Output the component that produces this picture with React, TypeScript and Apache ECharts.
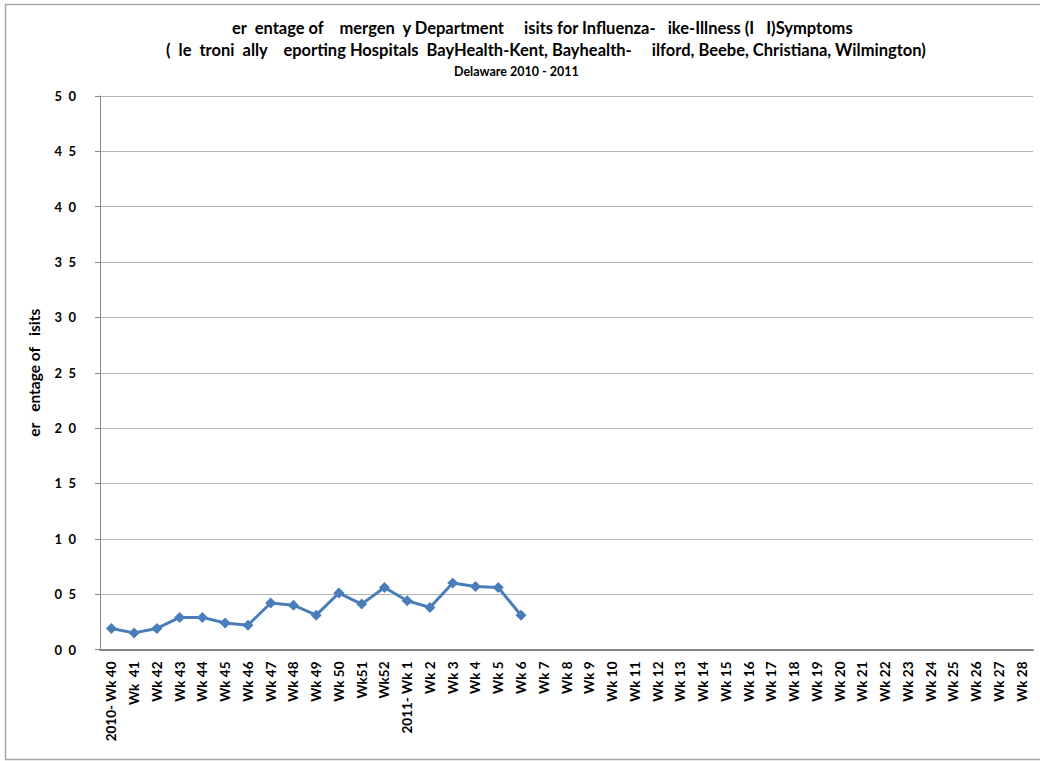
import React, { useEffect, useRef } from "react";
import * as echarts from "echarts";

const titleLine1 = "er  entage of    mergen  y Department     isits for Influenza-   ike-Illness (I   I)Symptoms";
const titleLine2 = "(  le  troni  ally    eporting Hospitals  BayHealth-Kent, Bayhealth-     ilford, Beebe, Christiana, Wilmington)";
const titleLine3 = "Delaware 2010 - 2011";
const yAxisName = "er   entage of   isits";

const weekLabels = [
  "2010- Wk 40", "Wk  41", "Wk 42", "Wk 43", "Wk 44", "Wk 45", "Wk 46", "Wk 47", "Wk 48", "Wk 49",
  "Wk 50", "Wk51", "Wk52", "2011- Wk 1", "Wk 2", "Wk 3", "Wk 4", "Wk 5", "Wk 6", "Wk 7",
  "Wk 8", "Wk 9", "Wk 10", "Wk 11", "Wk 12", "Wk 13", "Wk 14", "Wk 15", "Wk 16", "Wk 17",
  "Wk 18", "Wk 19", "Wk 20", "Wk 21", "Wk 22", "Wk 23", "Wk 24", "Wk 25", "Wk 26", "Wk 27", "Wk 28",
];

const iliPercent = [
  0.19, 0.15, 0.19, 0.29, 0.29, 0.24, 0.22, 0.42, 0.4, 0.31,
  0.51, 0.41, 0.56, 0.44, 0.38, 0.6, 0.57, 0.56, 0.31,
];

const yTickValues = [0, 0.5, 1, 1.5, 2, 2.5, 3, 3.5, 4, 4.5, 5];
const yTickLabels = ["0 0", "0 5", "1 0", "1 5", "2 0", "2 5", "3 0", "3 5", "4 0", "4 5", "5 0"];

const FONT = "Lato, 'Liberation Sans', sans-serif";

export default function App() {
  const ref = useRef<HTMLDivElement>(null);
  useEffect(() => {
    if (!ref.current) return;
    const chart = echarts.init(ref.current, undefined, { renderer: "svg" });
    chart.setOption({
      animation: false,
      backgroundColor: "#ffffff",
      textStyle: { fontFamily: FONT },
      title: [
        { text: titleLine1, left: 227, top: 14, textStyle: { fontFamily: FONT, fontSize: 16.5, fontWeight: "bold", color: "#000" } },
        { text: titleLine2, left: 161, top: 36, textStyle: { fontFamily: FONT, fontSize: 16.5, fontWeight: "bold", color: "#000" } },
        { text: titleLine3, left: 449, top: 60, textStyle: { fontFamily: FONT, fontSize: 12.5, fontWeight: "bold", color: "#000" } },
      ],
      graphic: [
        {
          type: "rect",
          shape: { x: 5.5, y: 4.5, width: 1040, height: 755 },
          style: { fill: "none", stroke: "#a6a6a6", lineWidth: 1.5 },
          silent: true,
        },
      ],
      grid: { left: 100, right: 7, top: 96, bottom: 111.5, containLabel: false },
      xAxis: {
        type: "category",
        data: weekLabels,
        boundaryGap: true,
        axisLine: { show: true, lineStyle: { color: "#868686", width: 2 } },
        axisTick: { show: false },
        axisLabel: {
          interval: 0,
          rotate: 90,
          margin: 12,
          fontFamily: FONT,
          fontSize: 13.5,
          fontWeight: "bold",
          color: "#000",
        },
        splitLine: { show: false },
      },
      yAxis: {
        type: "value",
        min: 0,
        max: 5,
        interval: 0.5,
        name: yAxisName,
        nameLocation: "middle",
        nameGap: 58,
        nameRotate: 90,
        nameTextStyle: { fontFamily: FONT, fontSize: 15.5, fontWeight: "bold", color: "#000" },
        axisLine: { show: true, lineStyle: { color: "#868686", width: 1 } },
        axisTick: { show: true, length: 5, lineStyle: { color: "#868686" } },
        axisLabel: {
          margin: 24,
          fontFamily: FONT,
          fontSize: 13,
          fontWeight: "bold",
          color: "#000",
          formatter: (v: number) => {
            const i = yTickValues.findIndex((t) => Math.abs(t - v) < 1e-6);
            return i >= 0 ? yTickLabels[i].replace(" ", "  ") : "";
          },
        },
        splitLine: { show: true, lineStyle: { color: "#b3b3b3", width: 1 } },
      },
      series: [
        {
          type: "line",
          data: iliPercent,
          symbol: "diamond",
          symbolSize: 11,
          lineStyle: { color: "#4a7ebb", width: 3 },
          itemStyle: { color: "#4a7ebb" },
        },
      ],
    });
    return () => chart.dispose();
  }, []);
  return (
    <div
      ref={ref}
      style={{ position: "absolute", left: 0, top: 0, width: 1040, height: 761 }}
    />
  );
}
